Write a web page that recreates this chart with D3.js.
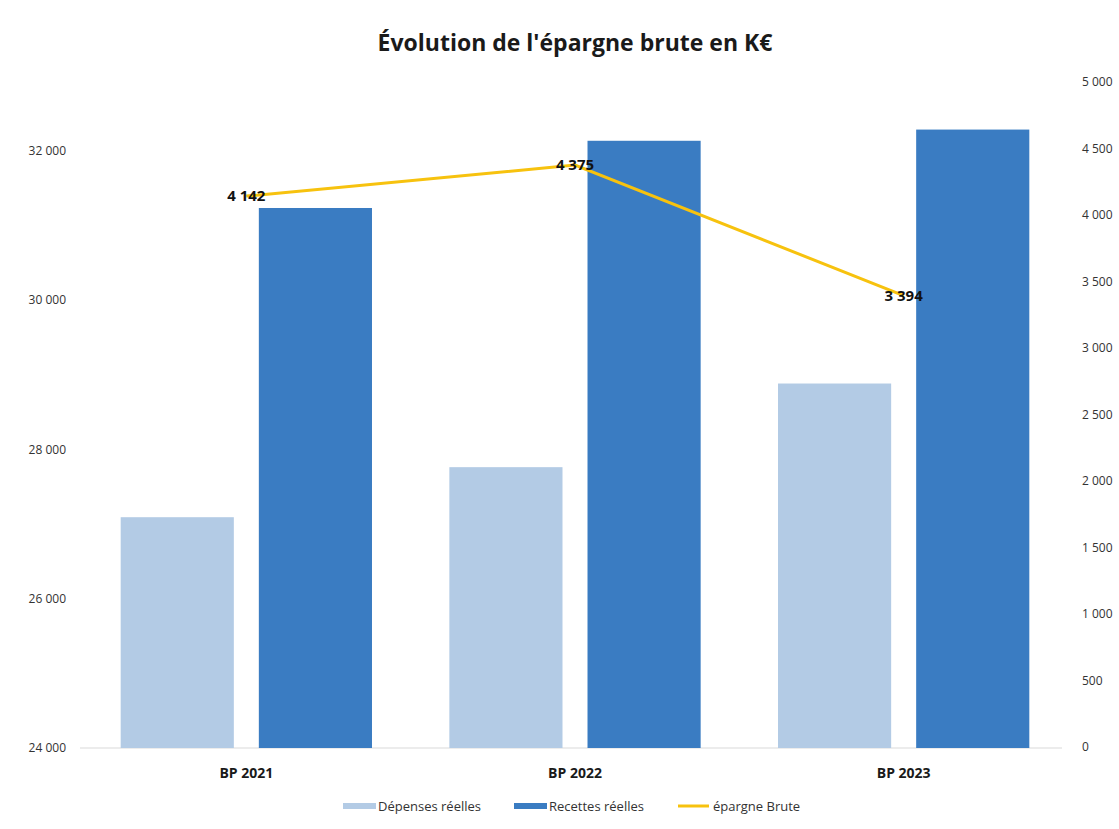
<!DOCTYPE html>
<html><head><meta charset="utf-8">
<script src="https://cdn.jsdelivr.net/npm/d3@7"></script>
<style>body{margin:0;background:#fff;}svg{display:block;font-family:"Open Sans",sans-serif;}</style>
</head><body><svg id="c" width="1119" height="829"></svg>
<script>
const categories = ["BP 2021", "BP 2022", "BP 2023"];
const depenses = [27090, 27760, 28880];
const recettes = [31230, 32130, 32280];
const epargne = [4142, 4375, 3394];
const leftTicks = [24000, 26000, 28000, 30000, 32000];
const rightTicks = [0, 500, 1000, 1500, 2000, 2500, 3000, 3500, 4000, 4500, 5000];
const seriesNames = ["Dépenses réelles", "Recettes réelles", "épargne Brute"];
const colors = ["#b3cbe5", "#3a7cc2", "#f7c20e"];

(function () {
const svg = d3.select("#c");
const fmt = v => d3.format(",")(v).replace(/,/g, " ");
const plotTop = 87, plotBottom = 748;
const x = d3.scaleBand().domain(categories).range([82, 1068]).paddingInner(0).paddingOuter(0);
const xi = d3.scaleBand().domain(["d","r"]).range([0, x.bandwidth()]).paddingInner(0.181).paddingOuter(0.28);
const yL = d3.scaleLinear().domain([24000, 32850]).range([plotBottom, plotTop]);
const yR = d3.scaleLinear().domain([0, 5000]).range([plotBottom - 1, plotTop - 5]);

svg.append("text").attr("x", 575).attr("y", 51).attr("text-anchor", "middle")
  .attr("font-size", 23).attr("font-weight", "bold").attr("fill", "#1a1a1a")
  .text("Évolution de l'épargne brute en K€");

const gL = svg.append("g").attr("transform", "translate(66,0)")
  .call(d3.axisLeft(yL).tickValues(leftTicks).tickFormat(fmt).tickSize(0).tickPadding(0));
gL.select(".domain").remove();
gL.selectAll("text").attr("font-size", 12).attr("fill", "#333").attr("font-family", "Open Sans");

const gR = svg.append("g").attr("transform", "translate(1082,0)")
  .call(d3.axisRight(yR).tickValues(rightTicks).tickFormat(fmt).tickSize(0).tickPadding(0));
gR.select(".domain").remove();
gR.selectAll("text").attr("font-size", 12).attr("fill", "#333").attr("font-family", "Open Sans");

svg.append("line").attr("x1", 80).attr("x2", 1062).attr("y1", plotBottom).attr("y2", plotBottom)
  .attr("stroke", "#d9d9d9").attr("stroke-width", 1);

const g = svg.append("g");
categories.forEach((c, i) => {
  g.append("rect").attr("x", x(c) + xi("d")).attr("width", xi.bandwidth())
    .attr("y", yL(depenses[i])).attr("height", plotBottom - yL(depenses[i])).attr("fill", colors[0]);
  g.append("rect").attr("x", x(c) + xi("r")).attr("width", xi.bandwidth())
    .attr("y", yL(recettes[i])).attr("height", plotBottom - yL(recettes[i])).attr("fill", colors[1]);
});

svg.append("g").selectAll("text").data(categories).join("text")
  .attr("x", d => x(d) + x.bandwidth() / 2).attr("y", 778).attr("text-anchor", "middle")
  .attr("font-size", 14).attr("font-weight", "bold").attr("fill", "#1a1a1a").text(d => d);

const line = d3.line().x((d, i) => x(categories[i]) + x.bandwidth() / 2).y(d => yR(d));
svg.append("path").datum(epargne).attr("d", line).attr("fill", "none")
  .attr("stroke", colors[2]).attr("stroke-width", 3);
svg.append("g").selectAll("text").data(epargne).join("text")
  .attr("x", (d, i) => x(categories[i]) + x.bandwidth() / 2).attr("y", d => yR(d) + 5)
  .attr("text-anchor", "middle").attr("font-size", 15).attr("font-weight", "bold").attr("fill", "#111")
  .text(fmt);

const legX = [343, 514, 678];
const lg = svg.append("g");
seriesNames.forEach((n, i) => {
  if (i < 2) {
    lg.append("rect").attr("x", legX[i]).attr("y", 803).attr("width", 33).attr("height", 6).attr("fill", colors[i]);
  } else {
    lg.append("line").attr("x1", legX[i]).attr("x2", legX[i] + 31).attr("y1", 806).attr("y2", 806)
      .attr("stroke", colors[i]).attr("stroke-width", 3);
  }
  lg.append("text").attr("x", legX[i] + 35).attr("y", 811).attr("font-size", 13).attr("fill", "#333").text(n);
});
})();
</script></body></html>
